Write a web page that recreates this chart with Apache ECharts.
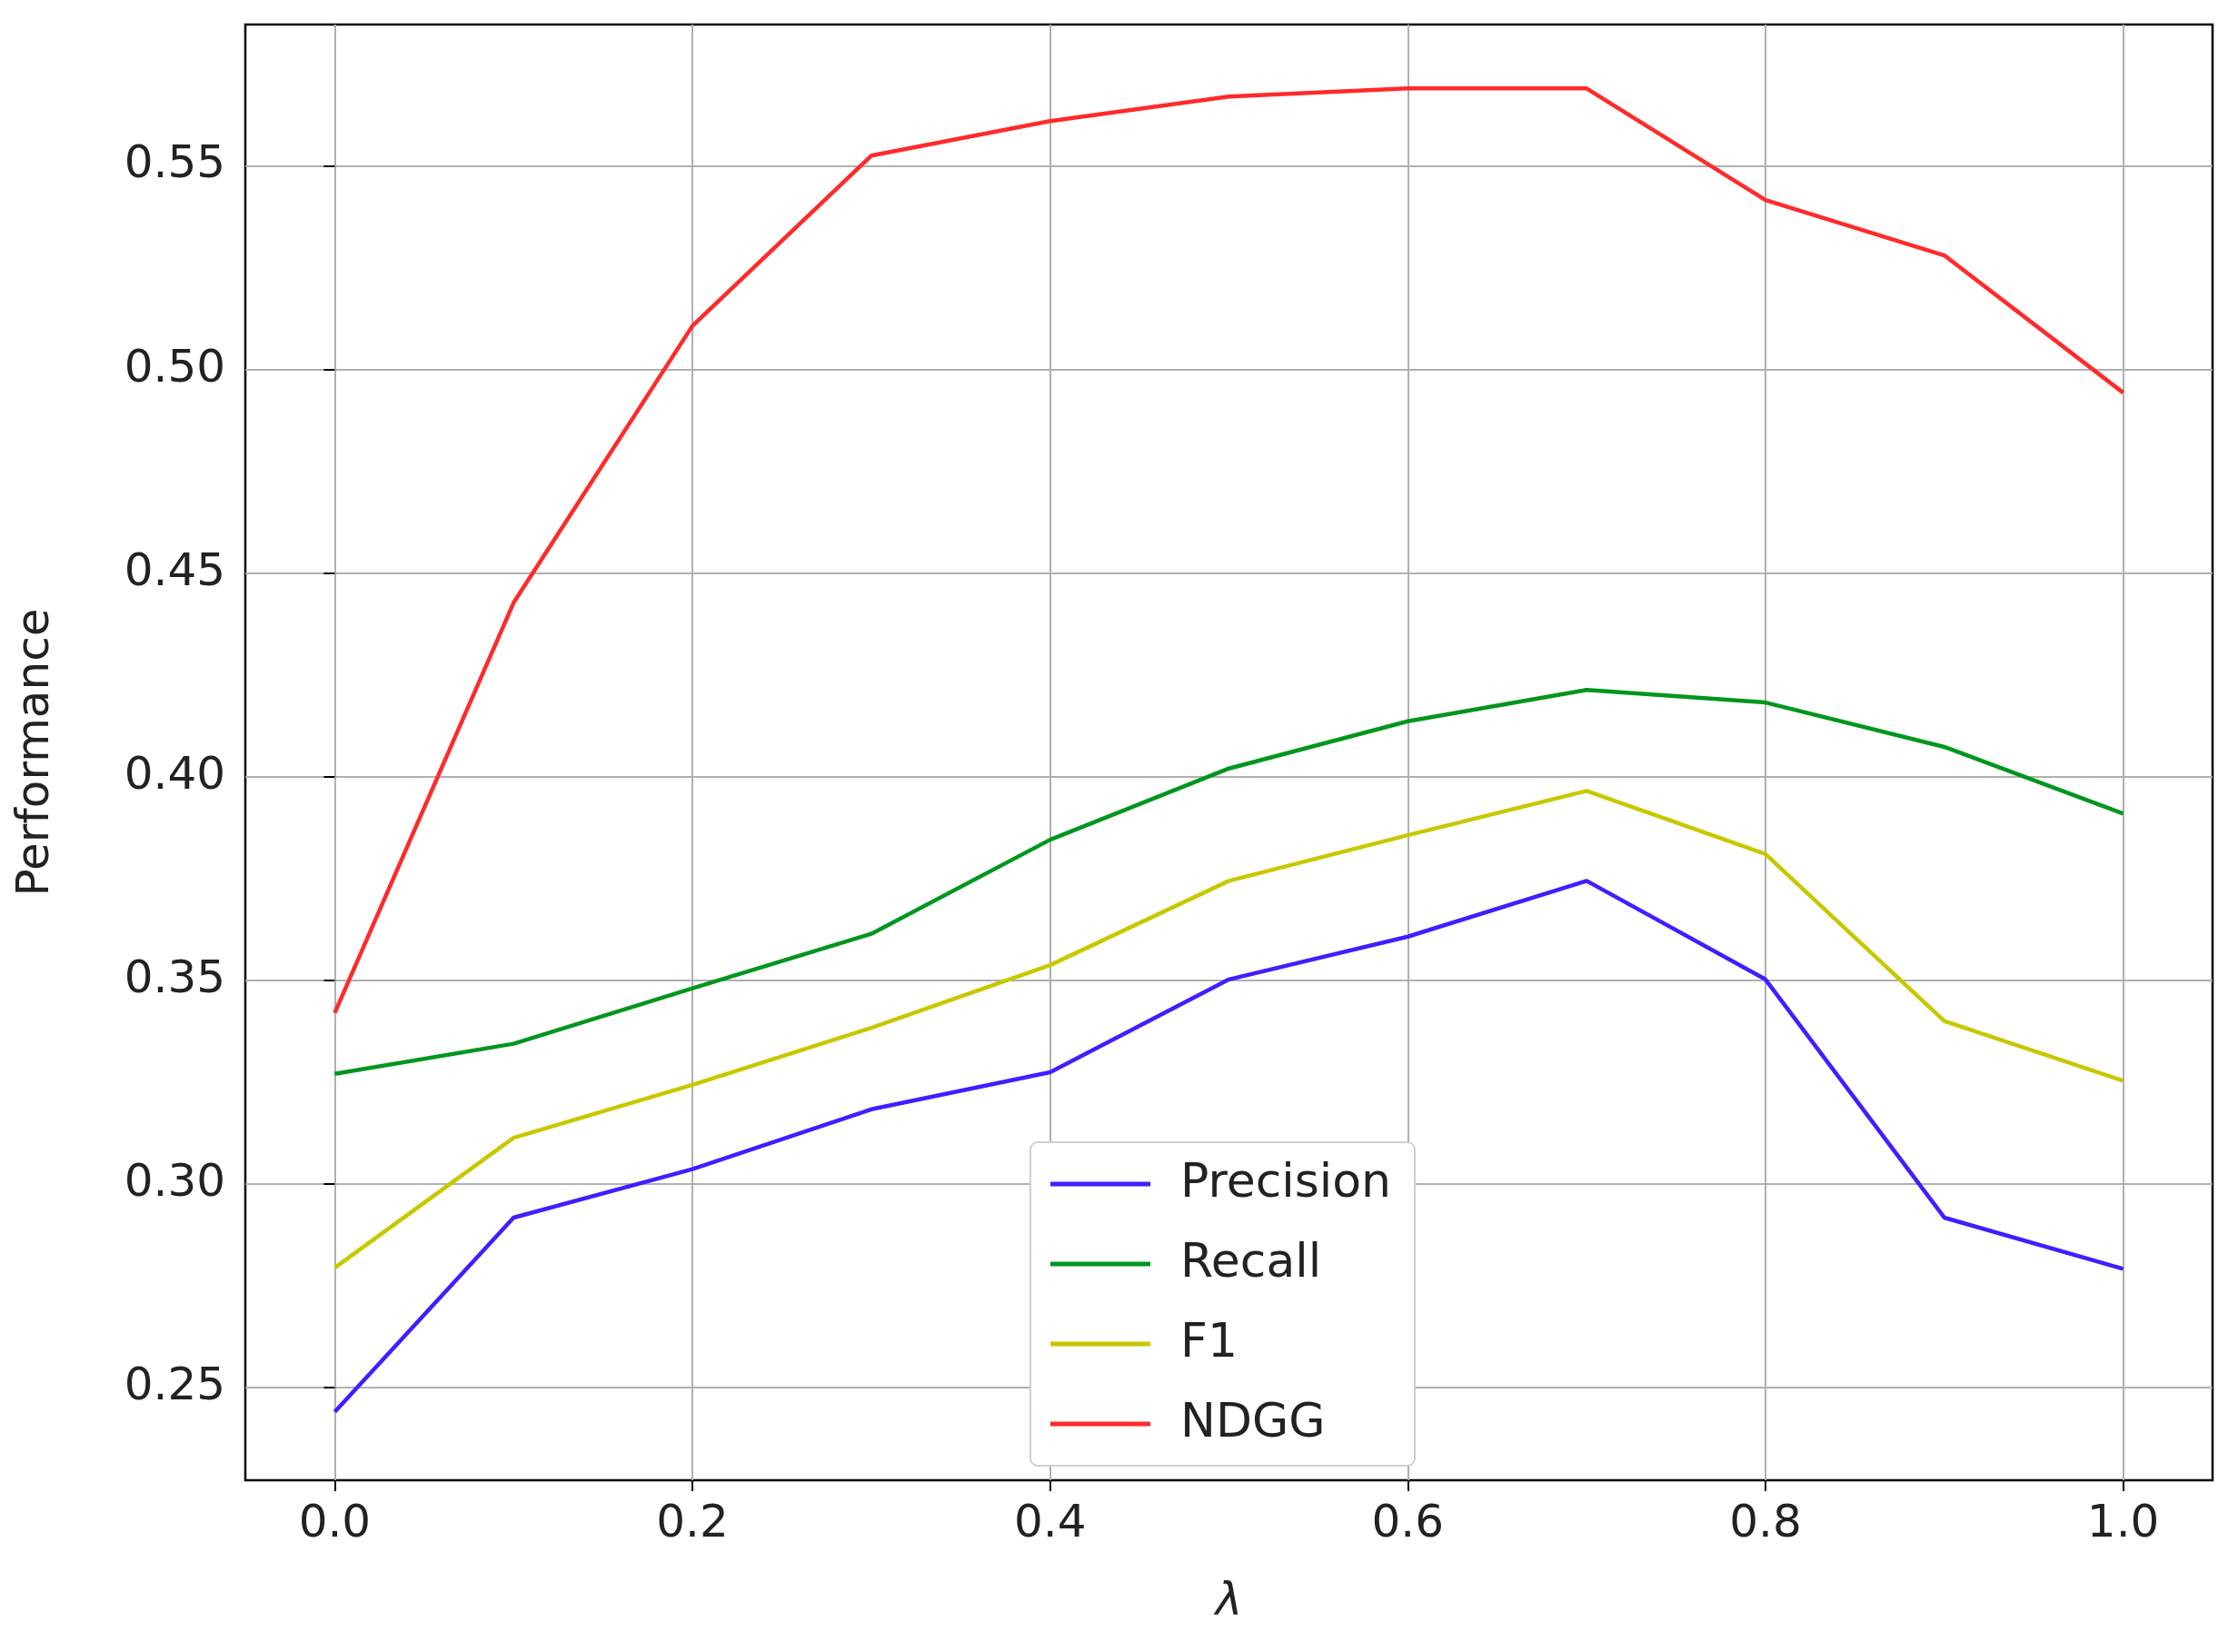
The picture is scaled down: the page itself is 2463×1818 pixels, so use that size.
<!DOCTYPE html>
<html>
<head>
<meta charset="utf-8">
<script src="https://cdn.jsdelivr.net/npm/echarts@6/dist/echarts.min.js"></script>
<style>html,body{margin:0;padding:0;background:#fff}#chart{width:2463px;height:1818px}</style>
</head>
<body>
<div id="chart"></div>
<script>
var lambdas = [0.0, 0.1, 0.2, 0.3, 0.4, 0.5, 0.6, 0.7, 0.8, 0.9, 1.0];
var precision = [0.244, 0.2917, 0.3036, 0.3183, 0.3274, 0.3502, 0.3607, 0.3744, 0.3502, 0.2917, 0.2791];
var recall = [0.327, 0.3344, 0.348, 0.3614, 0.3845, 0.402, 0.4136, 0.4213, 0.4182, 0.4073, 0.3909];
var f1 = [0.2794, 0.3113, 0.3243, 0.3383, 0.3537, 0.3744, 0.3856, 0.3965, 0.381, 0.340, 0.3253];
var ndgg = [0.342, 0.4427, 0.5107, 0.5525, 0.561, 0.567, 0.569, 0.569, 0.5416, 0.528, 0.4943];
var xTicks = [0, 0.2, 0.4, 0.6, 0.8, 1.0];
var yTicks = [0.25, 0.30, 0.35, 0.40, 0.45, 0.50, 0.55];

function pairs(arr) { return lambdas.map(function (x, i) { return [x, arr[i]]; }); }

var chart = echarts.init(document.getElementById('chart'));
var font = 'DejaVu Sans';
function mk(name, data, color) {
    return { name: name, type: 'line', data: pairs(data), symbol: 'none',
        lineStyle: { color: color, width: 4.5 }, itemStyle: { color: color } };
}
chart.setOption({
    animation: false,
    grid: { left: 270, right: 28, top: 27, bottom: 189, show: true, borderColor: '#000', borderWidth: 2.5 },
    legend: {
        orient: 'vertical', left: 1134, top: 1257,
        icon: 'rect', itemWidth: 110, itemHeight: 5, itemGap: 36,
        padding: [20, 26, 20, 22],
        backgroundColor: '#fff', borderColor: '#d0d0d0', borderWidth: 2, borderRadius: 8,
        textStyle: { fontFamily: font, fontSize: 52, color: '#222', padding: [0, 0, 0, 28] },
        data: ['Precision', 'Recall', 'F1', 'NDGG']
    },
    xAxis: {
        type: 'value', min: -0.05, max: 1.05,
        name: 'λ', nameLocation: 'middle', nameGap: 110,
        nameTextStyle: { fontFamily: font, fontSize: 50, fontStyle: 'italic', color: '#222' },
        axisLine: { show: false },
        axisTick: { show: true, customValues: xTicks, length: 12, lineStyle: { color: '#000', width: 2 } },
        axisLabel: { customValues: xTicks, fontFamily: font, fontSize: 50, color: '#222', margin: 24,
            formatter: function (v) { return v.toFixed(1); } },
        splitLine: { show: true, lineStyle: { color: '#b0b0b0', width: 2 } }
    },
    yAxis: {
        type: 'value', min: 0.2272, max: 0.5847,
        name: 'Performance', nameLocation: 'middle', nameGap: 205,
        nameTextStyle: { fontFamily: font, fontSize: 50, color: '#222' },
        axisLine: { show: false },
        axisTick: { show: true, customValues: yTicks, length: 12, lineStyle: { color: '#000', width: 2 } },
        axisLabel: { customValues: yTicks, fontFamily: font, fontSize: 50, color: '#222', margin: 22,
            formatter: function (v) { return v.toFixed(2); } },
        splitLine: { show: true, lineStyle: { color: '#b0b0b0', width: 2 } }
    },
    series: [
        mk('Precision', precision, '#3f1fff'),
        mk('Recall', recall, '#00961e'),
        mk('F1', f1, '#c8c800'),
        mk('NDGG', ndgg, '#ff2a2a')
    ]
});
</script>
</body>
</html>
